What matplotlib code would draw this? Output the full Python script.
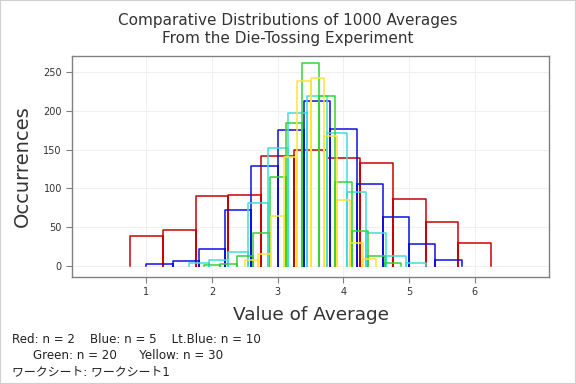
import matplotlib.pyplot as plt
from matplotlib.patches import Rectangle


# =========================
# Data
# =========================

# bin edges (left) and widths, heights
RED_LEFT = [0.75, 1.25, 1.75, 2.25, 2.75, 3.25, 3.75, 4.25, 4.75, 5.25, 5.75]
RED_WIDTH = 0.5
RED_COUNTS = [38, 46, 90, 91, 142, 150, 139, 133, 86, 56, 29]

BLUE_LEFT = [1.0, 1.4, 1.8, 2.2, 2.6, 3.0, 3.4, 3.8, 4.2, 4.6, 5.0, 5.4]
BLUE_WIDTH = 0.4
BLUE_COUNTS = [2, 6, 22, 72, 129, 175, 213, 177, 105, 63, 28, 8]

LTBLUE_LEFT = [1.65, 1.95, 2.25, 2.55, 2.85, 3.15, 3.45, 3.75, 4.05, 4.35, 4.65, 4.95]
LTBLUE_WIDTH = 0.3
LTBLUE_COUNTS = [3, 7, 18, 81, 152, 197, 219, 172, 95, 42, 13, 3]

GREEN_LEFT = [1.875, 2.125, 2.375, 2.625, 2.875, 3.125, 3.375, 3.625, 3.875, 4.125, 4.375, 4.625]
GREEN_WIDTH = 0.25
GREEN_COUNTS = [1, 2, 12, 42, 114, 185, 262, 219, 108, 45, 12, 3]

YELLOW_LEFT = [2.5, 2.7, 2.9, 3.1, 3.3, 3.5, 3.7, 3.9, 4.1, 4.3]
YELLOW_WIDTH = 0.2
YELLOW_COUNTS = [7, 15, 64, 141, 239, 243, 168, 85, 29, 9]

X_TICKS = [1, 2, 3, 4, 5, 6]
Y_TICKS = [0, 50, 100, 150, 200, 250]

TITLE = "Comparative Distributions of 1000 Averages\nFrom the Die-Tossing Experiment"
NOTE_1 = "Red: n = 2    Blue: n = 5    Lt.Blue: n = 10"
NOTE_2 = "Green: n = 20      Yellow: n = 30"
NOTE_3 = "ワークシート: ワークシート1"


# =========================
# Helpers
# =========================

def bar_outline(left, width, counts):
    # open rectangles: up, across, down (no bottom edge)
    xs = []
    ys = []
    for x0, h in zip(left, counts):
        x1 = x0 + width
        xs += [x0, x0, x1, x1, float("nan")]
        ys += [0, h, h, 0, float("nan")]
    return xs, ys


# =========================
# Figure
# =========================

plt.rcParams["font.family"] = ["DejaVu Sans", "Noto Sans CJK JP"]

fig = plt.figure(figsize=(5.76, 3.84), dpi=100)
ax = fig.add_axes([0.1255, 0.2786, 0.828, 0.5756])

series = [
    (RED_LEFT, RED_WIDTH, RED_COUNTS, "#CC0000"),
    (BLUE_LEFT, BLUE_WIDTH, BLUE_COUNTS, "#1010E0"),
    (LTBLUE_LEFT, LTBLUE_WIDTH, LTBLUE_COUNTS, "#40DDDD"),
    (GREEN_LEFT, GREEN_WIDTH, GREEN_COUNTS, "#3AD03A"),
    (YELLOW_LEFT, YELLOW_WIDTH, YELLOW_COUNTS, "#FFE633"),
]

for left, width, counts, color in series:
    xs, ys = bar_outline(left, width, counts)
    ax.plot(xs, ys, color=color, linewidth=1.1, zorder=3)

ax.set_xlim(-0.125, 7.13)
ax.set_ylim(-14.6, 271)

ax.set_xticks(X_TICKS)
ax.set_yticks(Y_TICKS)

ax.grid(True, color="#F0F0F0", linewidth=0.8, zorder=0)

for spine in ax.spines.values():
    spine.set_color("#808080")
    spine.set_linewidth(1.0)

ax.tick_params(
    axis="both",
    colors="#808080",
    labelcolor="#333333",
    labelsize=7,
    length=4,
    width=0.8
)

ax.set_xlabel("Value of Average", fontsize=13.3, color="#333333", labelpad=6)
ax.set_ylabel("Occurrences", fontsize=14, color="#333333", labelpad=8)

fig.text(0.5, 0.924, TITLE, ha="center", va="center",
         fontsize=11, color="#333333", linespacing=1.25)

fig.text(0.021, 0.115, NOTE_1, fontsize=8.6, color="#222222", va="center")
fig.text(0.057, 0.073, NOTE_2, fontsize=8.6, color="#222222", va="center")
fig.text(0.021, 0.031, NOTE_3, fontsize=8.6, color="#222222", va="center")

fig.patches.append(
    Rectangle((0, 0), 1, 1, transform=fig.transFigure,
              fill=False, edgecolor="#D0D0D0", linewidth=1.5)
)

fig.savefig("out.png", dpi=100)
